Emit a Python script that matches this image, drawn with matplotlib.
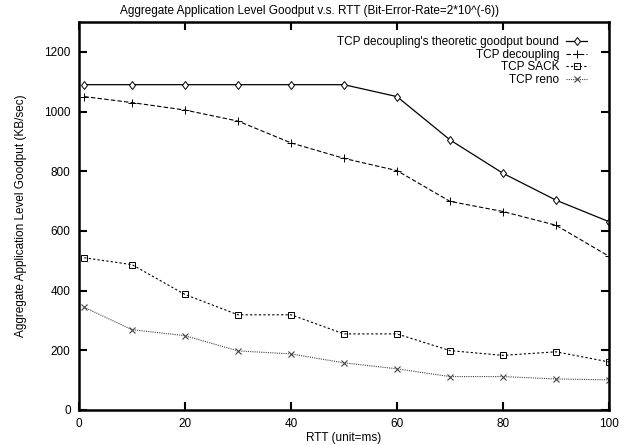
import matplotlib
matplotlib.use("Agg")
import matplotlib.pyplot as plt

plt.rcParams['font.family'] = ['Liberation Sans', 'DejaVu Sans']

rtt = [1, 10, 20, 30, 40, 50, 60, 70, 80, 90, 100]
bound = [1090, 1090, 1090, 1090, 1090, 1090, 1050, 905, 793, 703, 631]
decoupling = [1050, 1030, 1005, 968, 895, 843, 802, 699, 665, 619, 515]
sack = [510, 487, 387, 319, 319, 255, 255, 199, 183, 195, 161]
reno = [344, 269, 249, 198, 188, 158, 138, 112, 112, 104, 101]

labels = ["TCP decoupling's theoretic goodput bound", "TCP decoupling", "TCP SACK", "TCP reno"]
xticks = list(range(0, 101, 20))
yticks = list(range(0, 1201, 200))

fig = plt.figure(figsize=(6.26, 4.45), dpi=100)
ax = fig.add_axes([79/626, 35/445, 530/626, 388/445])

fs = 8.5
ax.plot(rtt, bound, color='black', lw=0.9, ls='-', marker='d', ms=4.5, mfc='white', mew=0.7, label=labels[0])
ax.plot(rtt, decoupling, color='black', lw=0.8, ls=(0, (4, 2)), marker='+', ms=6, mew=0.7, label=labels[1])
ax.plot(rtt, sack, color='black', lw=0.8, ls=(0, (2, 2)), marker='s', ms=5, mfc='none', mew=0.7, label=labels[2])
ax.plot(rtt, reno, color='#444444', lw=0.8, ls=(0, (1, 1)), marker='x', ms=5, mew=0.8, label=labels[3])

ax.set_xlim(0, 100)
ax.set_ylim(0, 1300)
ax.set_xticks(xticks)
ax.set_yticks(yticks)
ax.tick_params(direction='in', length=6, width=1.5, top=True, right=True, labelsize=fs, pad=6)
for s in ax.spines.values():
    s.set_linewidth(1.8)

fig.text(310/626, 1 - 11/445, "Aggregate Application Level Goodput v.s. RTT (Bit-Error-Rate=2*10^(-6))",
         fontsize=fs, ha='center', va='center')
ax.set_xlabel("RTT (unit=ms)", fontsize=fs, labelpad=1)
ax.set_ylabel("Aggregate Application Level Goodput (KB/sec)", fontsize=fs, labelpad=12)

leg = ax.legend(loc='upper right', bbox_to_anchor=(0.975, 0.985), frameon=False, markerfirst=False,
                fontsize=fs, handlelength=1.8, handletextpad=0.6, labelspacing=0.05, borderpad=0.2)

fig.savefig("out.png", dpi=100)
